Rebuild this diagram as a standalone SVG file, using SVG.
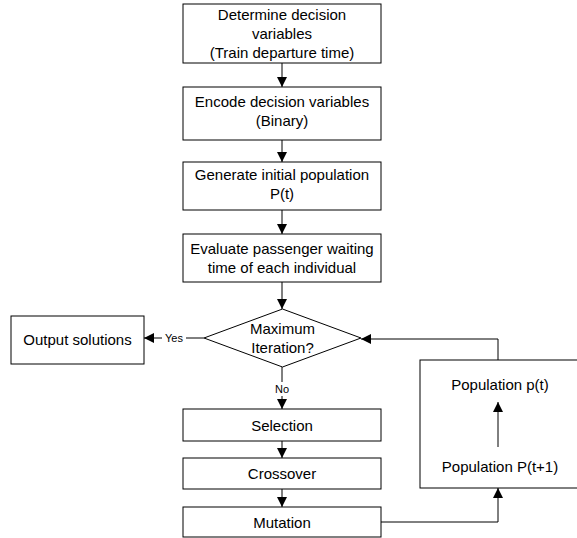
<svg xmlns="http://www.w3.org/2000/svg" width="577" height="538" viewBox="0 0 577 538">
<style>
.box{fill:#fff;stroke:#000;stroke-width:1}
.t{font-family:"Liberation Sans",Arial,sans-serif;font-size:15px;fill:#000;text-anchor:middle}
.s{font-family:"Liberation Sans",Arial,sans-serif;font-size:11px;fill:#000;text-anchor:middle}
.c{fill:none;stroke:#000;stroke-width:1}
</style>
<defs>
<marker id="ah" markerWidth="10" markerHeight="10" refX="10" refY="5" orient="auto" markerUnits="userSpaceOnUse">
<path d="M0,0 L10,5 L0,10 Z" fill="#000"/>
</marker>
</defs>
<rect width="577" height="538" fill="#fff"/>
<g id="n1"><rect class="box" x="183" y="4" width="198" height="59"/>
<text class="t" x="282" y="20">Determine decision</text>
<text class="t" x="282" y="39">variables</text>
<text class="t" x="282" y="58">(Train departure time)</text></g>
<g id="n2"><rect class="box" x="183" y="87" width="198" height="53"/>
<text class="t" x="282" y="107">Encode decision variables</text>
<text class="t" x="282" y="126">(Binary)</text></g>
<g id="n3"><rect class="box" x="183" y="162" width="198" height="48"/>
<text class="t" x="282" y="180">Generate initial population</text>
<text class="t" x="282" y="199">P(t)</text></g>
<g id="n4"><rect class="box" x="183" y="234" width="198" height="48"/>
<text class="t" x="282" y="254">Evaluate passenger waiting</text>
<text class="t" x="282" y="273">time of each individual</text></g>
<g id="n5"><path class="box" d="M282.5,309 L361,338 L282.5,367 L204,338 Z"/>
<text class="t" x="282.5" y="334">Maximum</text>
<text class="t" x="282.5" y="353">Iteration?</text></g>
<g id="n6"><rect class="box" x="11" y="316" width="133" height="48"/>
<text class="t" x="77.5" y="345">Output solutions</text></g>
<g id="n7"><rect class="box" x="183" y="409" width="198" height="32"/>
<text class="t" x="282" y="431">Selection</text></g>
<g id="n8"><rect class="box" x="183" y="458" width="198" height="31"/>
<text class="t" x="282" y="479">Crossover</text></g>
<g id="n9"><rect class="box" x="183" y="507" width="198" height="30"/>
<text class="t" x="282" y="528">Mutation</text></g>
<g id="n10"><rect class="box" x="420" y="360" width="170" height="128"/>
<text class="t" x="500" y="390">Population p(t)</text>
<text class="t" x="500" y="472">Population P(t+1)</text></g>
<g id="connectors">
<path class="c" d="M282,63 V87" marker-end="url(#ah)"/>
<path class="c" d="M282,140 V162" marker-end="url(#ah)"/>
<path class="c" d="M282,210 V234" marker-end="url(#ah)"/>
<path class="c" d="M282,282 V309" marker-end="url(#ah)"/>
<path class="c" d="M204,338 H186"/>
<path class="c" d="M162,338 H144" marker-end="url(#ah)"/>
<text class="s" x="174" y="342">Yes</text>
<path class="c" d="M282,367 V382"/>
<path class="c" d="M282,396 V409" marker-end="url(#ah)"/>
<text class="s" x="282" y="393">No</text>
<path class="c" d="M282,441 V458" marker-end="url(#ah)"/>
<path class="c" d="M282,489 V507" marker-end="url(#ah)"/>
<path class="c" d="M381,522 H498 V488" marker-end="url(#ah)"/>
<path class="c" d="M498,360 V339 H361" marker-end="url(#ah)"/>
<path class="c" d="M498,447 V402" marker-end="url(#ah)"/>
</g>
</svg>
